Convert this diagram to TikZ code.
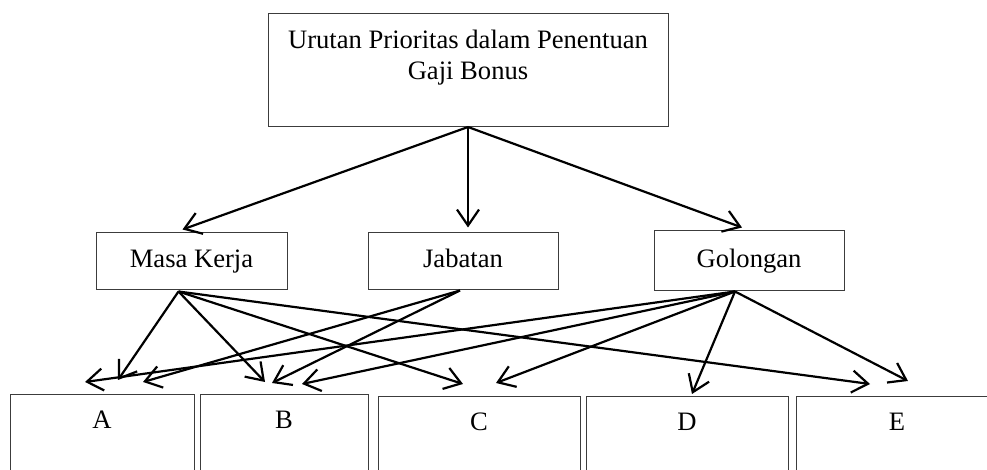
\documentclass[tikz,border=0pt]{standalone}
\usepackage{fontspec}
\setmainfont{Liberation Serif}
\usetikzlibrary{arrows.meta, positioning, calc}
\definecolor{BoxGray}{RGB}{60, 60, 60}

\begin{document}
\begin{tikzpicture}[
        x=0.5pt, y=-0.5pt,
        font=\fontsize{13.3}{15.5}\selectfont,
        goal/.style={draw=BoxGray, line width=0.5pt, fill=white, minimum width=200pt, inner sep=0pt, align=center, text height=33pt, text depth=23.5pt},
        crit/.style={draw=BoxGray, line width=0.5pt, fill=white, minimum height=28.5pt, inner sep=0pt, text height=9.5pt, text depth=3pt},
        alt/.style={draw=BoxGray, line width=0.5pt, fill=white, inner sep=0pt, text height=17pt, text depth=60pt},
        arrow/.style={-{Straight Barb[length=8pt, width=11pt]}, line width=1.1pt, black}
    ]
        \useasboundingbox (0,0) rectangle (987,470);
        \clip (0,0) rectangle (987,470);

        % goal
        \node[goal, anchor=north] (goal) at (468,13) {Urutan Prioritas dalam Penentuan\\ Gaji Bonus};

        % criteria
        \node[crit, minimum width=95.5pt] (masa) at (191.5,261.5) {Masa Kerja};
        \node[crit, minimum width=95pt] (jabatan) at (463,261.5) {Jabatan};
        \node[crit, minimum width=95pt, minimum height=30pt] (golongan) at (749,261) {Golongan};

        % alternatives
        \node[alt, minimum width=92pt, anchor=north] (A) at (102,394) {A};
        \node[alt, minimum width=84pt, anchor=north] (B) at (284,394) {B};
        \node[alt, minimum width=101pt, anchor=north] (C) at (479,396) {C};
        \node[alt, minimum width=101pt, anchor=north] (D) at (687,396) {D};
        \node[alt, minimum width=101pt, anchor=north] (E) at (897,396) {E};

        % goal -> criteria
        \draw[arrow] (goal.south) -- ($(masa.north)+(-9,-3)$);
        \draw[arrow] (goal.south) -- ($(jabatan.north)+(5,-5)$);
        \draw[arrow] (goal.south) -- ($(golongan.north)+(-7,-3)$);

        % masa kerja -> alternatives
        \draw[arrow] ($(masa.south)+(-13,1)$) -- ($(A.north)+(16,-14)$);
        \draw[arrow] ($(masa.south)+(-13,1)$) -- ($(B.north)+(-19,-12)$);
        \draw[arrow] ($(masa.south)+(-13,1)$) -- ($(C.north)+(-16,-12)$);
        \draw[arrow] ($(masa.south)+(-13,1)$) -- ($(E.north)+(-27,-12)$);

        % jabatan -> alternatives
        \draw[arrow] ($(jabatan.south)+(-3,0)$) -- ($(A.north)+(41,-12)$);
        \draw[arrow] ($(jabatan.south)+(-3,0)$) -- ($(B.north)+(-12,-11)$);

        % golongan -> alternatives
        \draw[arrow] ($(golongan.south)+(-14,0)$) -- ($(A.north)+(-17,-12)$);
        \draw[arrow] ($(golongan.south)+(-14,0)$) -- ($(B.north)+(18,-10)$);
        \draw[arrow] ($(golongan.south)+(-14,0)$) -- ($(C.north)+(17,-13)$);
        \draw[arrow] ($(golongan.south)+(-14,0)$) -- ($(D.north)+(5,-2)$);
        \draw[arrow] ($(golongan.south)+(-14,0)$) -- ($(E.north)+(11,-15)$);
    \end{tikzpicture}
\end{document}
